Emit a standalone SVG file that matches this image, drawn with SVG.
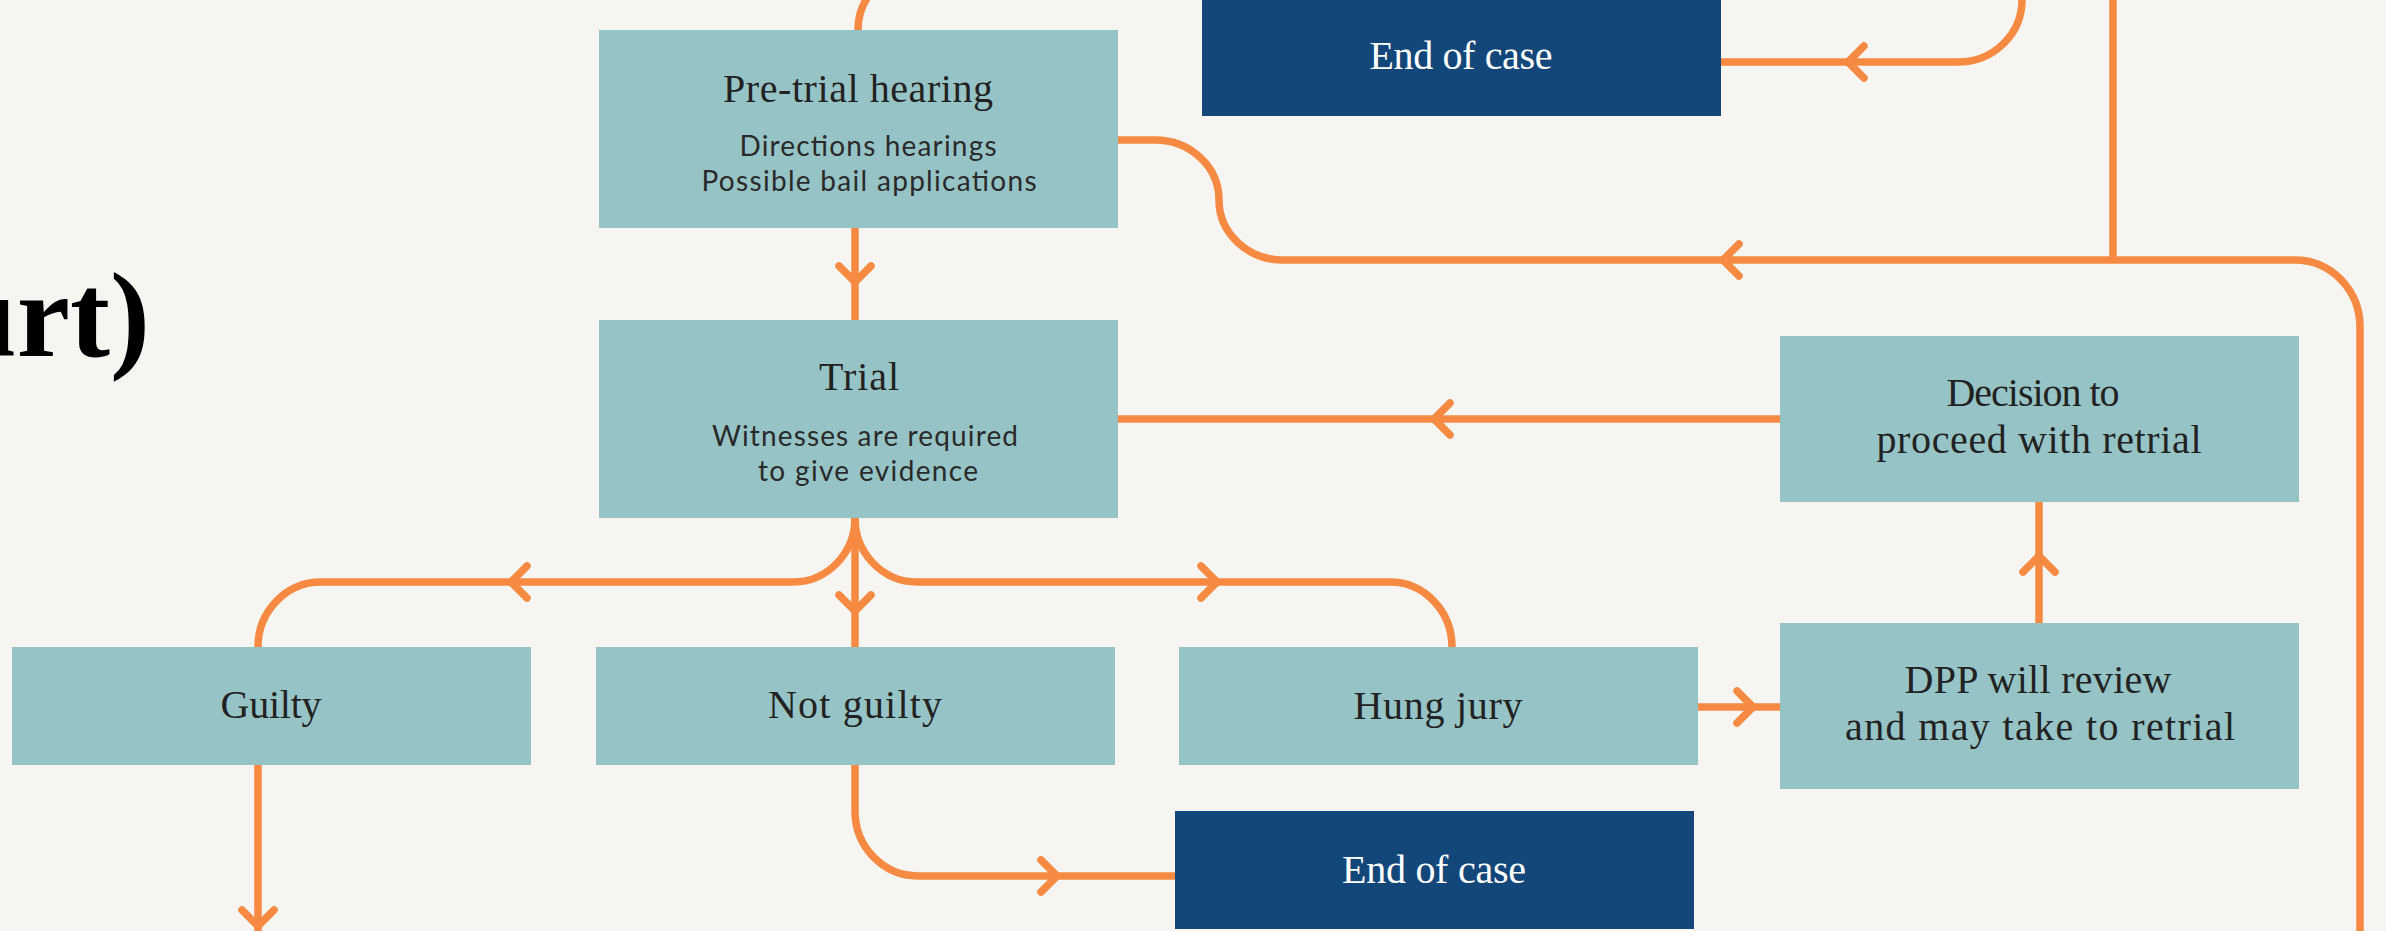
<svg xmlns="http://www.w3.org/2000/svg" width="2386" height="931" viewBox="0 0 2386 931">
<style>
.bg{fill:#f6f5f1}
.box{fill:#96c4c6}
.end{fill:#13477a}
.t{font-family:"Liberation Serif","Times New Roman",serif;font-size:40px;fill:#222;text-anchor:middle}
.w{font-family:"Liberation Serif","Times New Roman",serif;font-size:40px;fill:#fff;text-anchor:middle}
.s{font-family:Lato,"Open Sans",sans-serif;font-size:28px;fill:#2a2a2a;text-anchor:middle}
.ln{fill:none;stroke:#f68a42;stroke-width:7.5}
.ar{fill:none;stroke:#f68a42;stroke-width:7.5;stroke-linecap:round;stroke-linejoin:round}
.title{font-family:"Liberation Serif","Times New Roman",serif;font-weight:bold;font-size:120px;fill:#000;text-anchor:end}
</style>
<defs>
<path id="chev" d="M-16,-16 L0,0 L16,-16"/>
</defs>
<rect class="bg" x="0" y="0" width="2386" height="931"/>
<text class="title" x="150" y="356">urt)</text>

<g id="connectors">
<path class="ln" d="M858 30 A60 60 0 0 1 918 -30"/>
<path class="ln" d="M855 228 L855 320"/>
<path class="ln" d="M1118 140 L1155 140 A64 60 0 0 1 1219 200 A64 60 0 0 0 1283 260 L2295 260 A65 67 0 0 1 2360 327 L2360 940"/>
<path class="ln" d="M2113 -5 L2113 260"/>
<path class="ln" d="M1721 62 L1958 62 A64 62 0 0 0 2022 0 L2022 -10"/>
<path class="ln" d="M1780 419 L1118 419"/>
<path class="ln" d="M855 518 A62 64 0 0 1 793 582 L321 582 A63 65 0 0 0 258 647"/>
<path class="ln" d="M855 518 A62 64 0 0 0 917 582 L1390 582 A62 65 0 0 1 1452 647"/>
<path class="ln" d="M855 518 L855 647"/>
<path class="ln" d="M855 765 L855 811 A63 65 0 0 0 918 876 L1175 876"/>
<path class="ln" d="M258 765 L258 940"/>
<path class="ln" d="M1698 707 L1780 707"/>
<path class="ln" d="M2039 623 L2039 502"/>
<use href="#chev" class="ar" transform="translate(855,282)"/>
<use href="#chev" class="ar" transform="translate(855,611)"/>
<use href="#chev" class="ar" transform="translate(258,926)"/>
<use href="#chev" class="ar" transform="translate(1848,62) rotate(90)"/>
<use href="#chev" class="ar" transform="translate(1723,260) rotate(90)"/>
<use href="#chev" class="ar" transform="translate(1434,419) rotate(90)"/>
<use href="#chev" class="ar" transform="translate(511,582) rotate(90)"/>
<use href="#chev" class="ar" transform="translate(1217,582) rotate(-90)"/>
<use href="#chev" class="ar" transform="translate(1753,707) rotate(-90)"/>
<use href="#chev" class="ar" transform="translate(1057,876) rotate(-90)"/>
<use href="#chev" class="ar" transform="translate(2039,556) rotate(180)"/>
</g>

<g id="pretrial">
<rect class="box" x="599" y="30" width="519" height="198"/>
<text class="t" x="858" y="102" textLength="270">Pre-trial hearing</text>
<text class="s" x="868" y="156" textLength="257">Directions hearings</text>
<text class="s" x="869" y="191" textLength="335">Possible bail applications</text>
</g>
<g id="trial">
<rect class="box" x="599" y="320" width="519" height="198"/>
<text class="t" x="859" y="390" textLength="80">Trial</text>
<text class="s" x="865" y="446" textLength="306">Witnesses are required</text>
<text class="s" x="868" y="481" textLength="220">to give evidence</text>
</g>
<g id="endtop">
<rect class="end" x="1202" y="-2" width="519" height="118"/>
<text class="w" x="1461" y="69" textLength="183">End of case</text>
</g>
<g id="decision">
<rect class="box" x="1780" y="336" width="519" height="166"/>
<text class="t" x="2033" y="406" textLength="173">Decision to</text>
<text class="t" x="2039" y="453" textLength="325">proceed with retrial</text>
</g>
<g id="dpp">
<rect class="box" x="1780" y="623" width="519" height="166"/>
<text class="t" x="2038" y="693" textLength="267">DPP will review</text>
<text class="t" x="2040" y="740" textLength="390">and may take to retrial</text>
</g>
<g id="guilty">
<rect class="box" x="12" y="647" width="519" height="118"/>
<text class="t" x="271" y="718" textLength="101">Guilty</text>
</g>
<g id="notguilty">
<rect class="box" x="596" y="647" width="519" height="118"/>
<text class="t" x="855" y="718" textLength="174">Not guilty</text>
</g>
<g id="hung">
<rect class="box" x="1179" y="647" width="519" height="118"/>
<text class="t" x="1438" y="719" textLength="169">Hung jury</text>
</g>
<g id="endbottom">
<rect class="end" x="1175" y="811" width="519" height="118"/>
<text class="w" x="1434" y="883" textLength="184">End of case</text>
</g>
</svg>
